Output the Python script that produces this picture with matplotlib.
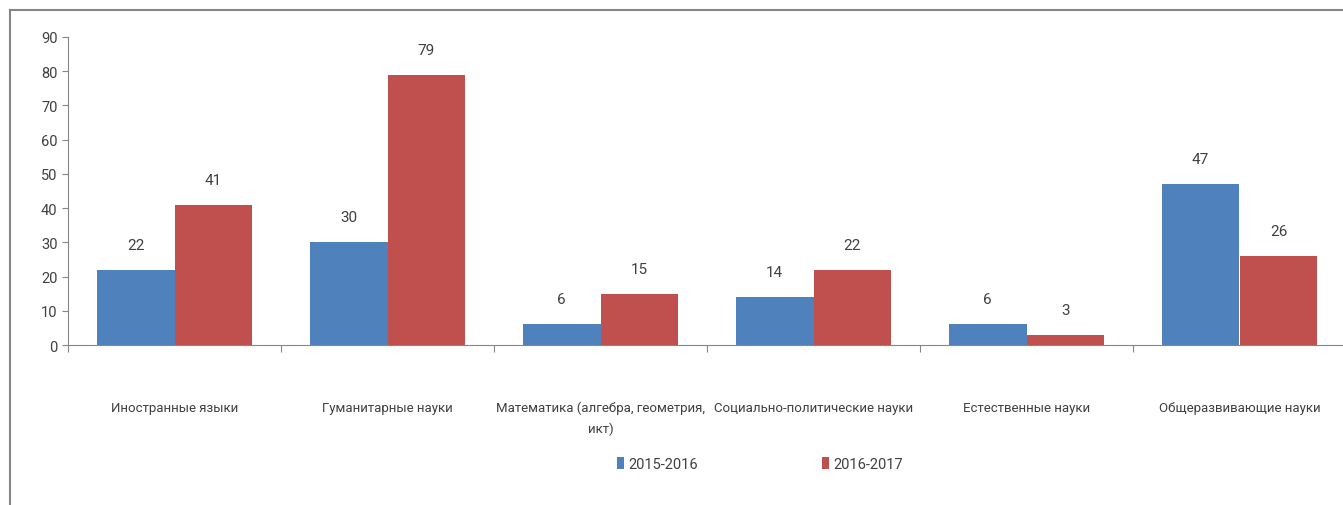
import matplotlib
matplotlib.use("Agg")
from matplotlib import pyplot as plt
from matplotlib.lines import Line2D
import numpy as np

categories = ["Иностранные языки", "Гуманитарные науки",
              "Математика (алгебра, геометрия,\nикт)", "Социально-политические науки",
              "Естественные науки", "Общеразвивающие науки"]
series_names = ["2015-2016", "2016-2017"]
vals_2015 = [22, 30, 6, 14, 6, 47]
vals_2016 = [41, 79, 15, 22, 3, 26]
yticks = list(range(0, 100, 10))

BLUE = "#4F81BD"
RED = "#C0504D"
GREY = "#868686"
FONT = ["Liberation Sans Narrow", "Roboto", "DejaVu Sans"]
plt.rcParams['font.family'] = FONT

fig = plt.figure(figsize=(13.43, 5.06), dpi=100)
ax = fig.add_axes([68/1343, 160/506, 1278/1343, 308/506])

x = np.arange(len(categories))
w = 0.366
b1 = ax.bar(x - w/2, vals_2015, w, color=BLUE, label=series_names[0])
b2 = ax.bar(x + w/2, vals_2016, w, color=RED, label=series_names[1])
for bars in (b1, b2):
    for r in bars:
        ax.annotate(str(int(r.get_height())), (r.get_x() + r.get_width()/2, r.get_height()),
                    xytext=(0, 13), textcoords="offset points", ha="center", va="bottom",
                    fontsize=11, color="#404040")

ax.set_xlim(-0.5, len(categories) - 0.5)
ax.set_ylim(0, 90)
ax.set_yticks(yticks)
ax.tick_params(axis="y", labelsize=10.5, colors="#404040", length=4, color=GREY)
ax.set_xticks(np.arange(len(categories) + 1) - 0.5)
ax.set_xticklabels([])
ax.set_xticks(x, minor=True)
ax.set_xticklabels(categories, minor=True, fontsize=9.5, color="#404040", linespacing=1.7)
ax.tick_params(axis="x", which="minor", length=0, pad=40)
ax.tick_params(axis="x", which="major", length=5, color=GREY)
for s in ("top", "right"):
    ax.spines[s].set_visible(False)
ax.spines["left"].set_color(GREY)
ax.spines["bottom"].set_color(GREY)

fig.legend(handles=[b1, b2], loc="center", bbox_to_anchor=(0.566, 1 - 465/506),
           ncol=2, frameon=False, fontsize=10.5, handlelength=0.5, handleheight=0.9,
           handletextpad=0.3, columnspacing=8.5, labelcolor="#404040")

# chart border (top and left visible)
fig.add_artist(Line2D([10/1343, 1], [1 - 11/506, 1 - 11/506], color=GREY, lw=1.5))
fig.add_artist(Line2D([10/1343, 10/1343], [0, 1 - 11/506], color=GREY, lw=1.5))

fig.savefig("out.png", dpi=100)
